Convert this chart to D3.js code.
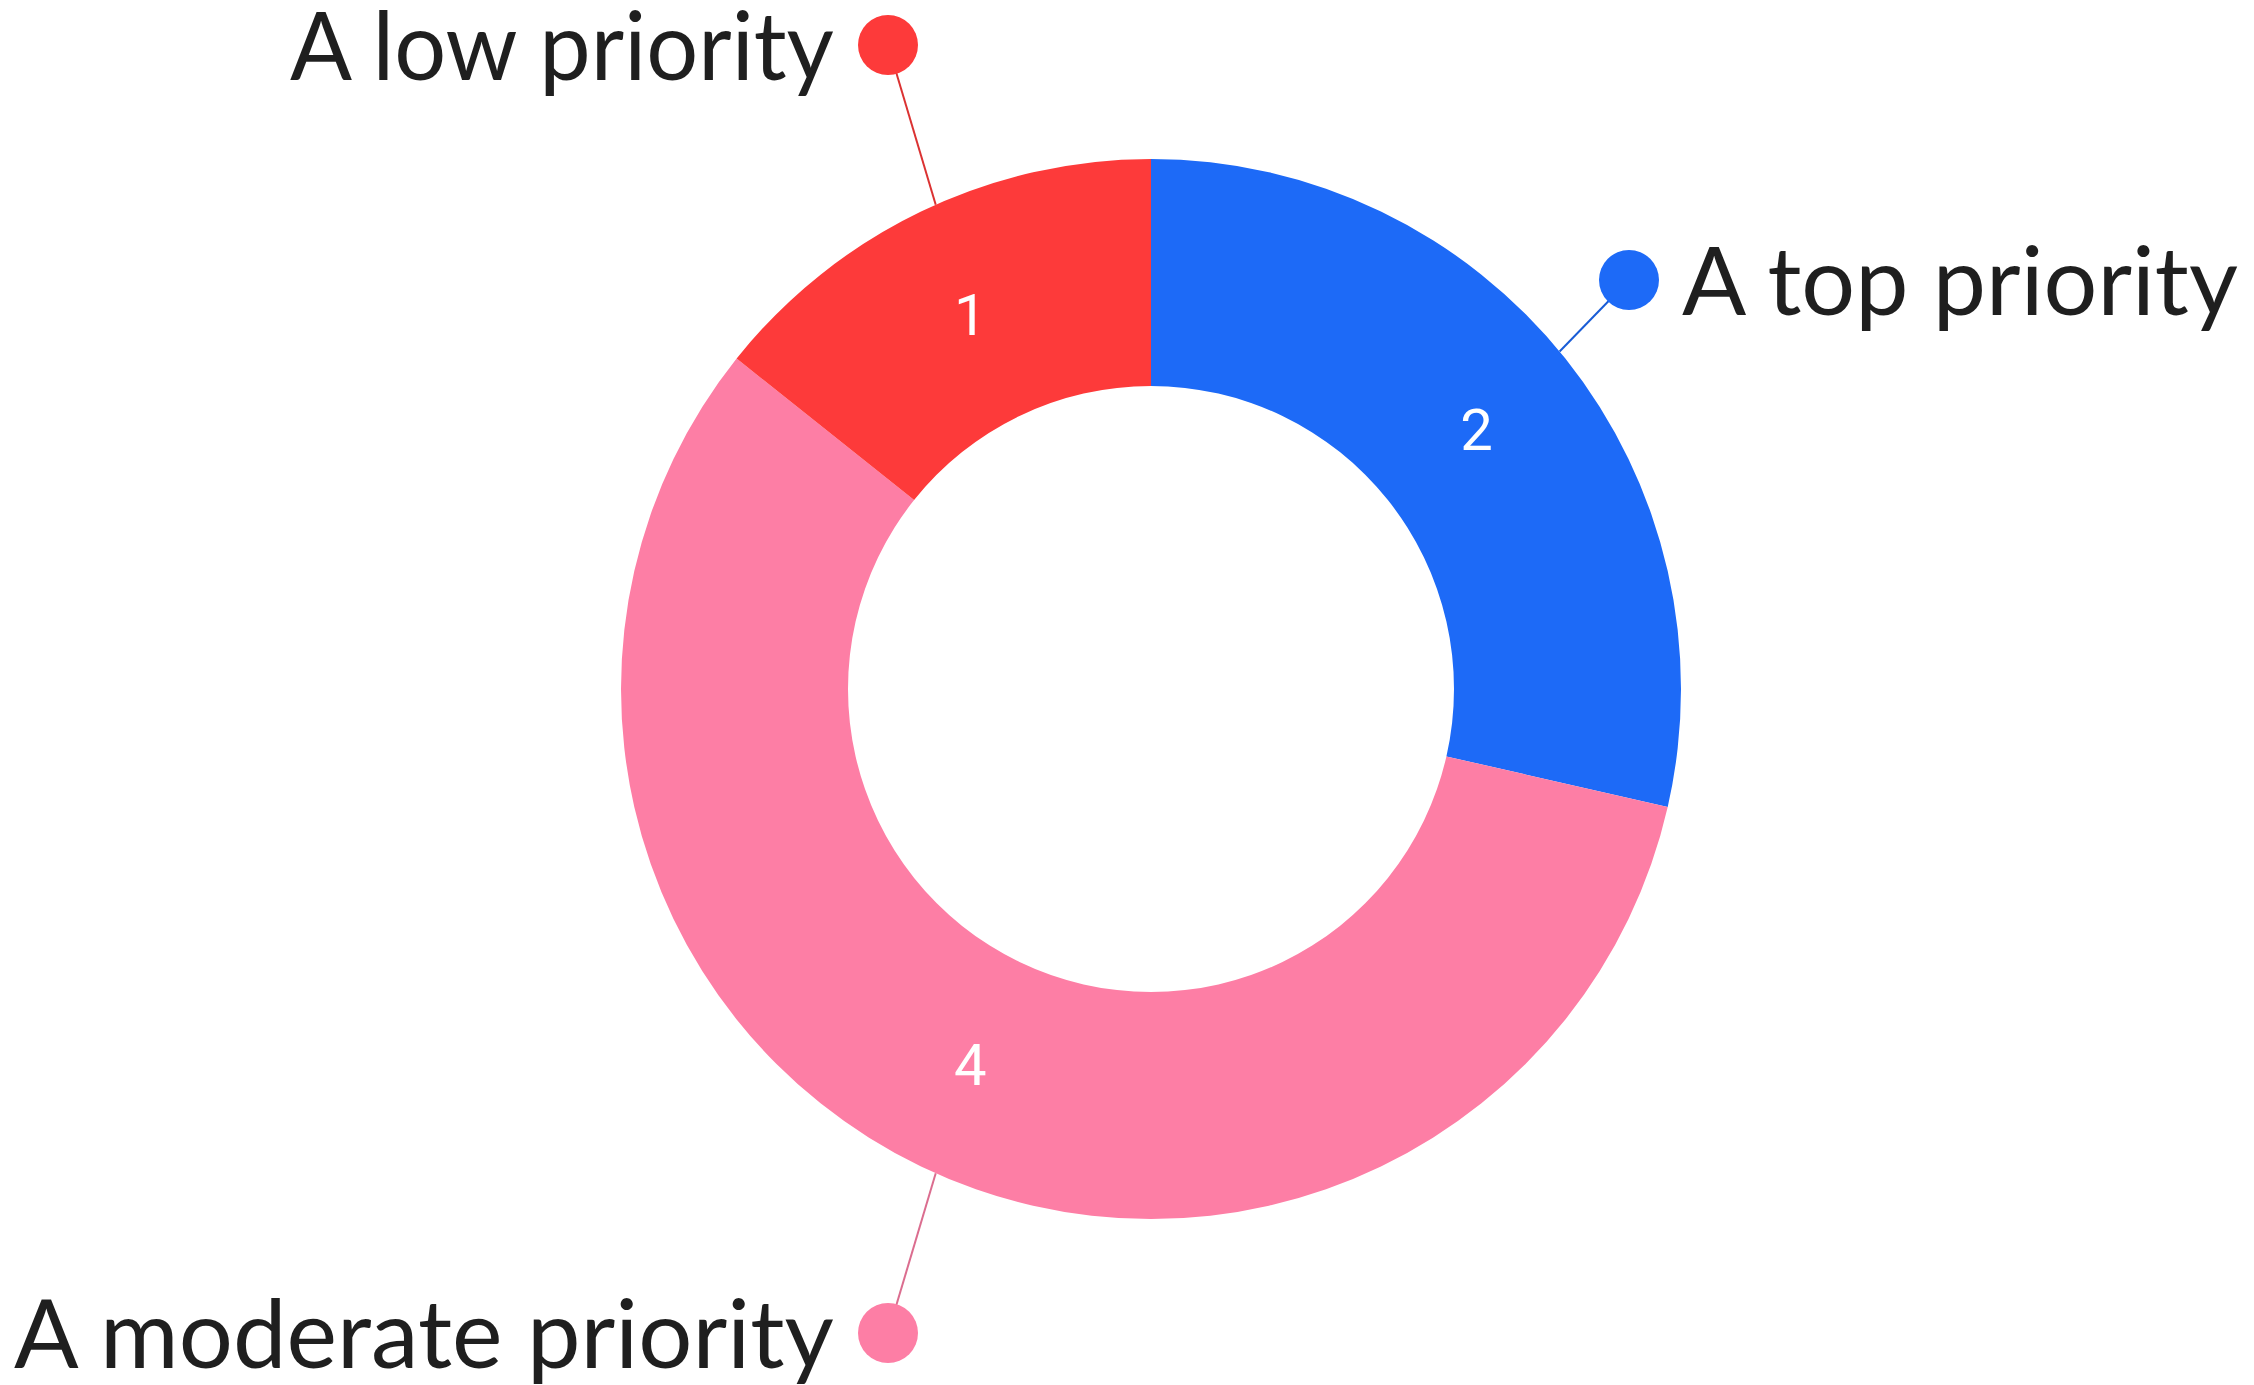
<!DOCTYPE html>
<html><head><meta charset="utf-8">
<script src="https://cdn.jsdelivr.net/npm/d3@7"></script>
<style>
html,body{margin:0;padding:0;background:#fff;}
svg{display:block;}
.lbl{font-family:'Lato',sans-serif;font-size:95px;fill:#1f1f1f;}
.val{font-family:Roboto,'Liberation Sans',Arial,sans-serif;font-size:58px;fill:#fff;}
</style>
</head><body>
<svg id="c" width="2254" height="1385"></svg>
<script>
const categories = ["A top priority", "A moderate priority", "A low priority"];
const values = [2, 4, 1];
const colors = ["#1d6af7", "#fd7ea5", "#fd3a3a"];

const cx = 1151, cy = 689, rOuter = 530, rInner = 303;
const dotR = 30;
// label dot positions relative to the chart centre (layout only)
const labelDots = [[478, -409], [-263, 644], [-263, -644]];
const labelSide = ["right", "left", "left"];
const labelWidths = [556, 820, 544];

const svg = d3.select("#c");
const g = svg.append("g").attr("transform", `translate(${cx},${cy})`);

const data = categories.map((c, i) => ({ name: c, value: values[i], color: colors[i], i }));
const pie = d3.pie().sort(null).value(d => d.value);
const arcs = pie(data);
const arc = d3.arc().innerRadius(rInner).outerRadius(rOuter);

g.selectAll("path.slice").data(arcs).join("path")
  .attr("class", "slice")
  .attr("d", arc)
  .attr("fill", d => d.data.color);

g.selectAll("text.val").data(arcs).join("text")
  .attr("class", "val")
  .attr("transform", d => `translate(${arc.centroid(d)})`)
  .attr("text-anchor", "middle")
  .attr("dy", "0.36em")
  .text(d => d.data.value);

const TAU = Math.PI * 2;
arcs.forEach(d => {
  const i = d.data.i;
  const a = (d.startAngle + d.endAngle) / 2;
  const p1 = labelDots[i];
  let aDot = Math.atan2(p1[0], -p1[1]);
  if (aDot < 0) aDot += TAU;
  const aa = (a + aDot) / 2;
  const p0 = [Math.sin(aa) * rOuter, -Math.cos(aa) * rOuter];
  g.append("line")
    .attr("x1", p0[0]).attr("y1", p0[1])
    .attr("x2", p1[0]).attr("y2", p1[1])
    .attr("stroke", d3.color(d.data.color).darker(0.4)).attr("stroke-width", 2);
  g.append("circle").attr("cx", p1[0]).attr("cy", p1[1]).attr("r", dotR)
    .attr("fill", d.data.color);
  const right = labelSide[i] === "right";
  const x0 = right ? p1[0] + dotR + 23 : p1[0] - dotR - 24 - labelWidths[i];
  const t = g.append("text")
    .attr("class", "lbl")
    .attr("x", 0)
    .attr("y", 0)
    .text(d.data.name);
  const w = t.node().getComputedTextLength();
  const sx = labelWidths[i] / w;
  t.attr("transform", `translate(${x0},${p1[1] + 35}) scale(${sx},1)`);
});
</script>
</body></html>
